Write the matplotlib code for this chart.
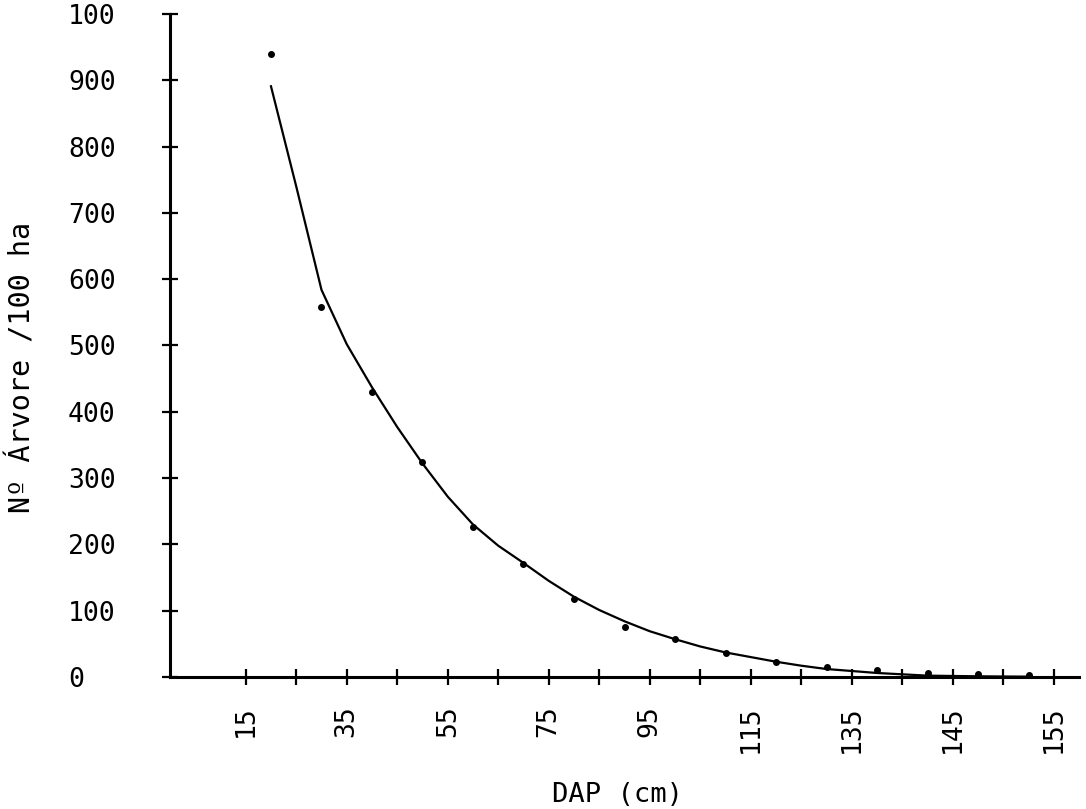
import matplotlib.pyplot as plt
import numpy as np

# class centres (DAP, cm) and observed number of trees / 100 ha
dap = [20, 30, 40, 50, 60, 70, 80, 90, 100, 110, 120, 130, 140, 150, 160, 170]
observed = [940, 558, 430, 324, 226, 170, 118, 75, 57, 36, 23, 15, 10, 6, 4, 3]

curve_x = [20, 25, 30, 35, 40, 45, 50, 55, 60, 65, 70, 75, 80, 85, 90, 95, 100,
           105, 110, 115, 120, 125, 130, 135, 140, 145, 150, 155, 160, 165, 170]
curve_y = [891, 740, 584, 502, 437, 377, 322, 272, 230, 198, 172, 145, 121, 101, 84, 69, 57,
           46, 37, 30, 23, 17, 12, 9, 6, 4, 2, 1.5, 1, 0.7, 0.5]

xtick_pos = [15, 25, 35, 45, 55, 65, 75, 85, 95, 105, 115, 125, 135, 145, 155, 165, 175]
xtick_lab = ['15', '', '35', '', '55', '', '75', '', '95', '', '115', '', '135', '', '145', '', '155']
ytick_pos = [0, 100, 200, 300, 400, 500, 600, 700, 800, 900, 1000]
ytick_lab = ['0', '100', '200', '300', '400', '500', '600', '700', '800', '900', '100']

plt.rcParams['font.family'] = ['DejaVu Sans Mono']

fig = plt.figure(figsize=(10.86, 8.09), dpi=100)
ax = fig.add_axes([0.1565, 0.1632, 0.8371, 0.8195])

ax.plot(curve_x, curve_y, color='black', linewidth=1.6, solid_joinstyle='round')
ax.plot(dap, observed, linestyle='none', marker='o', markersize=4, color='black')

ax.set_xlim(0, 180)
ax.set_ylim(0, 1000)

for s in ['top', 'right']:
    ax.spines[s].set_visible(False)
for s in ['left', 'bottom']:
    ax.spines[s].set_linewidth(2.2)

ax.set_xticks(xtick_pos)
ax.set_xticklabels(xtick_lab, rotation=90, fontsize=19)
ax.set_yticks(ytick_pos)
ax.set_yticklabels(ytick_lab, fontsize=19)

ax.tick_params(axis='both', direction='inout', length=11, width=1.6)
ax.tick_params(axis='x', pad=15)
ax.tick_params(axis='y', pad=68)
for lab in ax.get_yticklabels():
    lab.set_horizontalalignment('left')

fig.text(22 / 1086, 1 - 367 / 809, 'Nº Árvore /100 ha', rotation=90,
         ha='center', va='center', fontsize=20.5)
fig.text(618 / 1086, 1 - 795 / 809, 'DAP (cm)', ha='center', va='center', fontsize=19.5)

plt.savefig('out.png', dpi=100)
plt.close(fig)
